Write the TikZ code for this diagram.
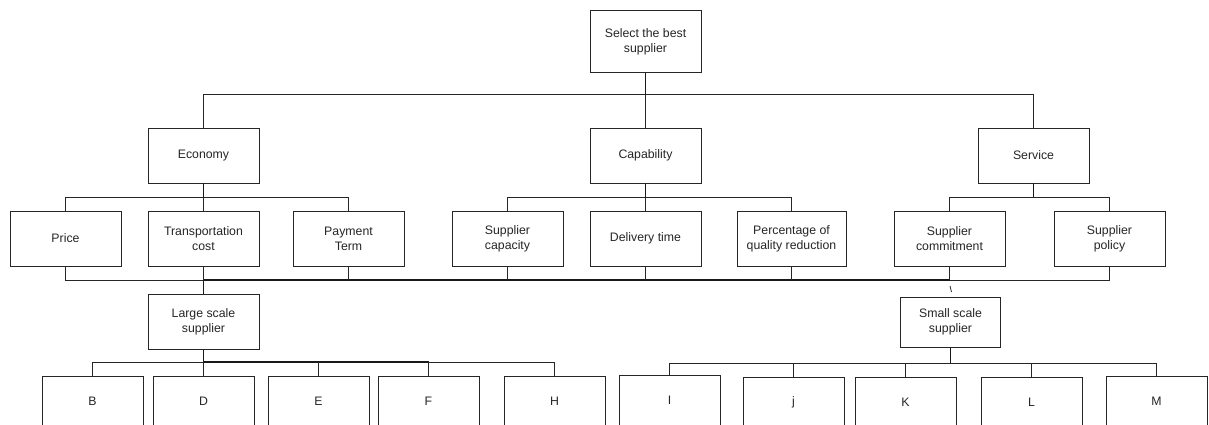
\documentclass[tikz,border=0pt]{standalone}
\usepackage{fontspec}
\setmainfont{Liberation Sans}
\begin{document}
\begin{tikzpicture}[x=1pt,y=-1pt,
  thn/.style={line width=0.8pt, draw=black!85},
  thk/.style={line width=1.5pt, draw=black!90},
  mid/.style={line width=1pt, draw=black!85},
  box/.style={draw=black!85, line width=0.7pt, rectangle, inner sep=0pt, align=center,
    minimum width=111pt, minimum height=55pt, text=black!85,
    font=\fontsize{12.3}{15}\selectfont},
  leaf/.style={box, minimum width=101pt, minimum height=50pt}]
\useasboundingbox (0,0) rectangle (1209,425);
\fill[white] (0,0) rectangle (1209,425);
\coordinate (L1) at (0,94);
\coordinate (L2) at (0,197);
\coordinate (L3) at (0,280);
\coordinate (L4) at (0,362);
\coordinate (L5) at (0,363.5);
% nodes
\node[box, minimum height=62pt] (top) at (645.5,41.7) {Select the best\\supplier};
\node[box] (econ) at (203.5,155.5) {Economy};
\node[box] (cap) at (645.5,155.5) {Capability};
\node[box] (serv) at (1033.5,155.5) {Service};
\node[box] (price) at (65.5,238.5) {Price};
\node[box] (trans) at (203.5,238.5) {Transportation\\cost};
\node[box] (pay) at (348.5,238.5) {Payment\\Term};
\node[box] (scap) at (507.5,238.5) {Supplier\\capacity};
\node[box] (deliv) at (645.5,238.5) {Delivery time};
\node[box, minimum width=109pt] (perc) at (791.5,238.5) {Percentage of\\quality reduction};
\node[box] (comm) at (949.5,238.5) {Supplier\\commitment};
\node[box] (pol) at (1109.5,238.5) {Supplier\\policy};
\node[box] (large) at (203.5,321.5) {Large scale\\supplier};
\node[box, minimum width=100pt, minimum height=50pt] (small) at (950.5,322) {Small scale\\supplier};
\node[leaf] (nB) at (92.5,401) {B};
\node[leaf] (nD) at (203.5,401) {D};
\node[leaf] (nE) at (318.5,401) {E};
\node[leaf] (nF) at (428.5,401) {F};
\node[leaf] (nH) at (554.5,401) {H};
\node[leaf] (nI) at (669.5,400) {I};
\node[leaf] (nj) at (793.5,402) {j};
\node[leaf] (nK) at (905.5,402) {K};
\node[leaf] (nL) at (1031.5,402) {L};
\node[leaf] (nM) at (1156.5,401) {M};
% level 1
\draw[thk] (top.south) -- (top.south |- L1);
\draw[thn] (econ.north) -- (econ.north |- L1) -- (serv.north |- L1) -- (serv.north);
\draw[thn] (cap.north |- L1) -- (cap.north);
% economy
\draw[thk] (econ.south) -- (econ.south |- L2);
\draw[thn] (price.north) -- (price.north |- L2) -- (pay.north |- L2) -- (pay.north);
\draw[thn] (trans.north |- L2) -- (trans.north);
% capability
\draw[thk] (cap.south) -- (cap.south |- L2);
\draw[thn] (scap.north) -- (scap.north |- L2) -- (perc.north |- L2) -- (perc.north);
\draw[thn] (deliv.north |- L2) -- (deliv.north);
% service
\draw[thk] (serv.south) -- (serv.south |- L2);
\draw[thn] (comm.north) -- (comm.north |- L2) -- (pol.north |- L2) -- (pol.north);
% bottom bus
\draw[thn] (price.south) -- (price.south |- L3) -- (trans.south |- L3);
\draw[thk] (trans.south |- L3) -- (comm.south |- L3);
\draw[thn] (comm.south |- L3) -- (pol.south |- L3) -- (pol.south);
\foreach \n in {trans,pay,scap,deliv,perc,comm} \draw[thn] (\n.south) -- (\n.south |- L3);
\draw[thk] (trans.south |- L3) -- (large.north);
\coordinate (t1) at (950,286);
\coordinate (t2) at (951.5,292);
\draw[thn] (t1) -- (t2);
% large scale
\draw[thk] (large.south) -- (large.south |- L4);
\draw[thn] (nB.north) -- (nB.north |- L4) -- (nD.north |- L4);
\draw[thk] (nD.north |- L4) -- (nF.north |- L4);
\draw[thn] (nF.north |- L4) -- (nH.north |- L4) -- (nH.north);
\foreach \n in {nD,nE,nF} \draw[thn] (\n.north) -- (\n.north |- L4);
% small scale
\draw[thk] (small.south) -- (small.south |- L5);
\draw[mid] (nI.north) -- (nI.north |- L5) -- (nM.north |- L5) -- (nM.north);
\foreach \n in {nj,nK,nL} \draw[thn] (\n.north) -- (\n.north |- L5);
\end{tikzpicture}
\end{document}
